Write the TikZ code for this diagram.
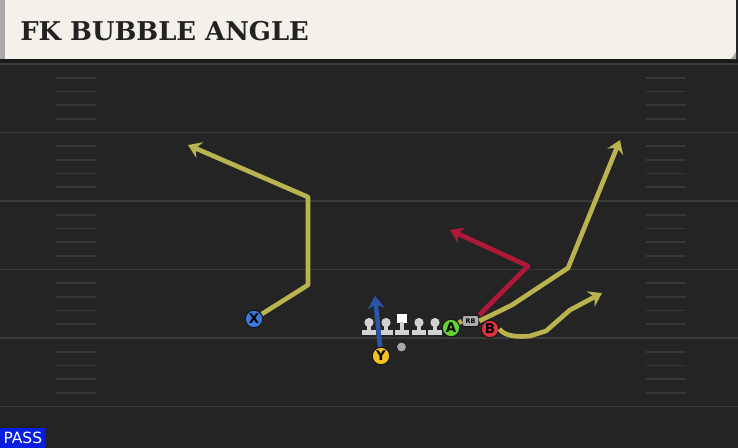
\documentclass[tikz,border=0pt]{standalone}
\usepackage{fontspec}
\setmainfont{DejaVu Serif}
\setsansfont{DejaVu Sans}
\usetikzlibrary{arrows.meta}
\definecolor{FieldDark}{HTML}{242424}
\definecolor{FieldBand}{HTML}{1A1A1A}
\definecolor{YardLine}{HTML}{3A3A3A}
\definecolor{HashLine}{HTML}{363636}
\definecolor{HeaderCream}{HTML}{F4F1EA}
\definecolor{HeaderEdge}{HTML}{A8A8A8}
\definecolor{TitleBlack}{HTML}{222222}
\definecolor{RouteYellow}{HTML}{B9B44F}
\definecolor{RouteRed}{HTML}{B0183A}
\definecolor{RouteBlue}{HTML}{2B55A8}
\definecolor{PlayerBlue}{HTML}{3C78DC}
\definecolor{PlayerYellow}{HTML}{F2C220}
\definecolor{PlayerGreen}{HTML}{63D234}
\definecolor{PlayerRed}{HTML}{E0303A}
\definecolor{LinemanGray}{HTML}{D2D2D2}
\definecolor{PassBlue}{HTML}{0A1EE0}

\tikzset{
  player/.style={circle, draw=black!90, line width=0.8pt, minimum size=0.44cm,
    inner sep=0pt, font=\sffamily\bfseries\fontsize{9.5}{9.5}\selectfont, text=black},
  route/.style={line width=3.3pt, line join=round,
    -{Stealth[length=9pt, width=12pt, inset=3pt]}},
  blockroute/.style={line width=3.3pt, line join=round}
}

\begin{document}
\begin{tikzpicture}[x=0.025cm, y=-0.025cm]
      \useasboundingbox (0,0) rectangle (738,448);
      % Field
      \fill[FieldDark] (0,0) rectangle (738,448);
      \fill[FieldBand] (0,59) rectangle (738,64);
      \foreach \k in {0,...,5}
        \draw[YardLine, line width=1.4pt] (0,64+68.5*\k) -- (738,64+68.5*\k);
      % hash marks
      \foreach \k in {0,...,4}
        \foreach \j in {1,...,4} {
          \draw[HashLine, line width=1.2pt] (56,64+68.5*\k+13.7*\j) -- (96,64+68.5*\k+13.7*\j);
          \draw[HashLine, line width=1.2pt] (646,64+68.5*\k+13.7*\j) -- (686,64+68.5*\k+13.7*\j);
        }
      % Header
      \fill[HeaderCream] (0,0) rectangle (736,59);
      \fill[HeaderEdge] (0,0) rectangle (5,59);
      \fill[HeaderEdge] (736,52) -- (736,59) -- (731,59) -- cycle;
      \node[anchor=west, text=TitleBlack, inner sep=0pt,
        font=\bfseries\fontsize{18.4}{22}\selectfont] (title) at (20,31)
        {FK BUBBLE ANGLE};
      % Line
      \foreach \c in {369,386,419,435} {
        \fill[LinemanGray] (\c,322.5) circle (4.6);
        \fill[LinemanGray] (\c-2.2,323) rectangle (\c+2.2,331);
        \fill[LinemanGray] (\c-6.8,329.5) rectangle (\c+6.8,335);
      }
      \fill[white] (397.2,314) rectangle (406.6,323);
      \fill[LinemanGray] (399.7,322) rectangle (404.1,331);
      \fill[LinemanGray] (395.1,329.5) rectangle (408.7,335);
      \node[circle, fill=gray!70, inner sep=0pt, minimum size=0.22cm] (ball) at (401.5,347) {};
      % Players
      \node[player, fill=PlayerBlue] (x) at (254,319) {X};
      \node[player, fill=PlayerYellow] (y) at (381,356) {Y};
      \node[player, fill=PlayerGreen] (a) at (451,328) {A};
      \node[player, fill=PlayerRed] (b) at (490,329) {B};
      \node[rounded corners=2pt, draw=black!90, fill=gray!65, line width=0.6pt,
        minimum width=0.42cm, minimum height=0.28cm, inner sep=0pt,
        font=\sffamily\bfseries\fontsize{4.5}{4.5}\selectfont] (rb) at (470.5,321) {RB};
      % Routes
      \draw[route, RouteYellow] (x) -- (308,285) -- (308,197) -- (188,145);
      \draw[route, RouteRed] (rb.north east) -- (528,266) -- (450,230);
      \draw[blockroute, RouteYellow] (a) -- (rb.west);
      \draw[route, RouteYellow] (rb.east) -- (512,305) -- (568,268) -- (620,140);
      \draw[route, RouteYellow] (b.east) .. controls (505,337) and (520,337) .. (530,336)
        -- (546,331) -- (570,310) -- (602,293);
      \draw[route, RouteBlue] (y) -- (375,296);
      % Pass tag
      \node[fill=PassBlue, text=white, anchor=south west, inner sep=0pt,
        minimum width=1.125cm, minimum height=0.5cm,
        font=\sffamily\fontsize{11}{11}\selectfont] (pass) at (0,448) {PASS};
\end{tikzpicture}
\end{document}
